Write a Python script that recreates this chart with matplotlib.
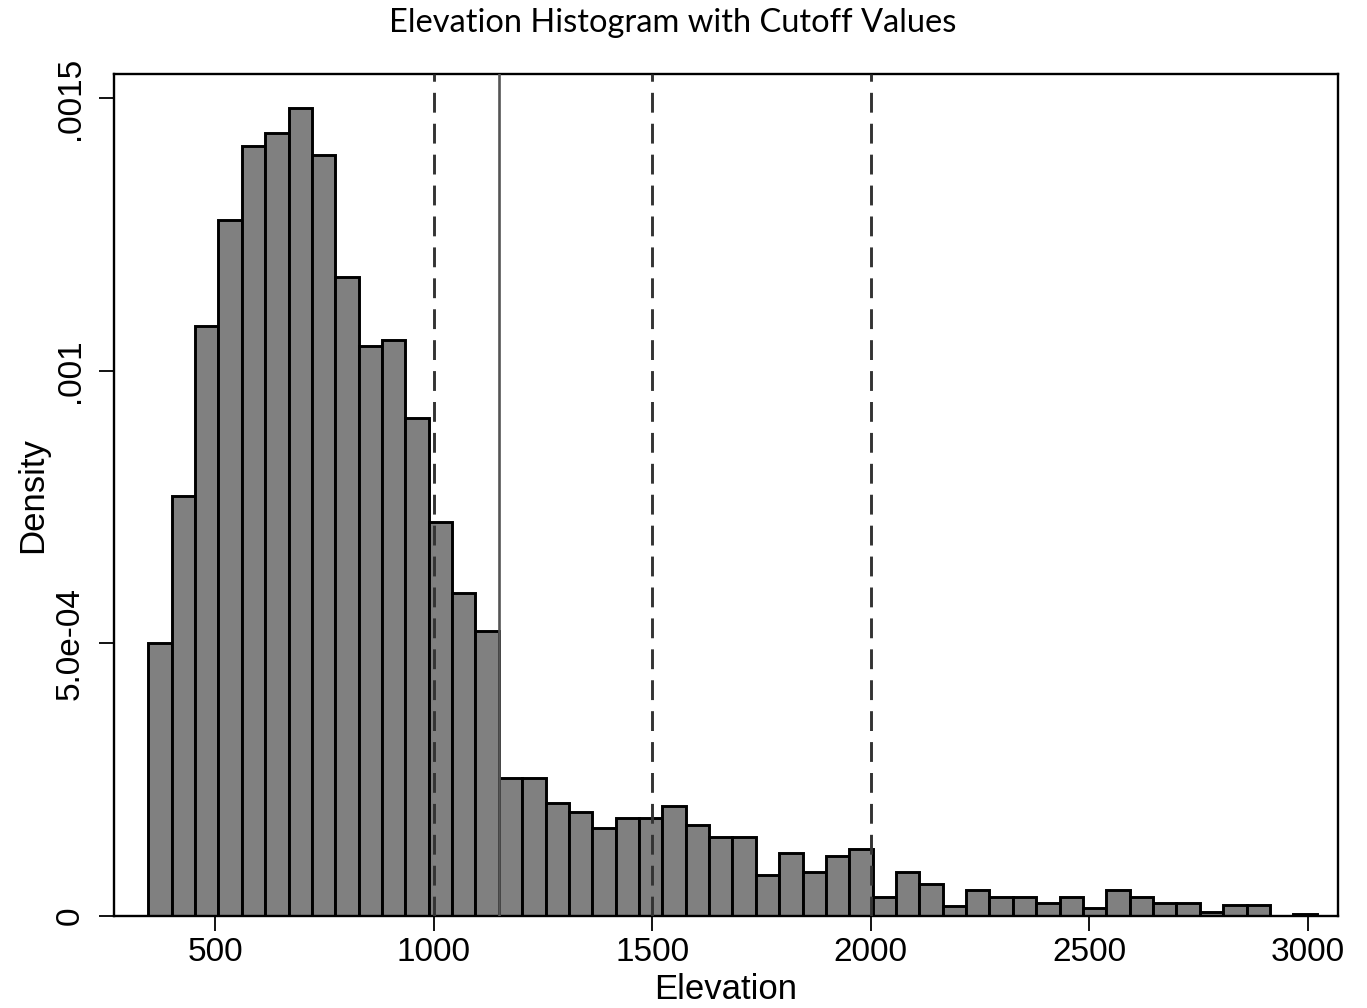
import numpy as np
import matplotlib.pyplot as plt

# Histogram of elevation (density scale), 50 equal-width bins
elev_lo = 347.5
elev_hi = 3020.0
n_bins = 50

density = [
    0.000500, 0.000771, 0.001081, 0.001276, 0.001412, 0.001436, 0.001482,
    0.001396, 0.001171, 0.001045, 0.001057, 0.000914, 0.000723, 0.000592,
    0.000522, 0.000253, 0.000253, 0.000207, 0.000190, 0.000161, 0.000179,
    0.000179, 0.000201, 0.000167, 0.000145, 0.000145, 0.000075, 0.000115,
    0.000081, 0.000110, 0.000122, 0.0000357, 0.0000815, 0.0000586,
    0.0000183, 0.0000476, 0.0000357, 0.0000357, 0.0000247, 0.0000357,
    0.0000137, 0.0000476, 0.0000357, 0.0000247, 0.0000247, 0.0000073,
    0.0000192, 0.0000192, 0.0, 0.0000037,
]

# cutoff values (dashed) and the reference line (solid)
cutoffs = [1000, 1500, 2000]
ref_line = 1150

xticks = [500, 1000, 1500, 2000, 2500, 3000]
yticks = [0, 0.0005, 0.001, 0.0015]
ytick_labels = ['0', '5.0e-04', '.001', '.0015']

edges = np.linspace(elev_lo, elev_hi, n_bins + 1)
width = edges[1] - edges[0]

plt.rcParams['font.family'] = ['Liberation Sans', 'DejaVu Sans']

fig = plt.figure(figsize=(13.67, 10.08), dpi=100)
ax = fig.add_axes([0.0834, 0.0913, 0.8954, 0.8353])

ax.bar(edges[:-1], density, width=width, align='edge',
       color='#808080', edgecolor='black', linewidth=2.1, zorder=2)

for c in cutoffs:
    ax.axvline(c, color='#333333', linewidth=2.1, dashes=(6.8, 3.8), zorder=3)
ax.axvline(ref_line, color='#555555', linewidth=1.9, zorder=3)

ax.set_xlim(269, 3069)
ax.set_ylim(0, 0.001544)

ax.set_xticks(xticks)
ax.set_yticks(yticks)
ax.set_yticklabels(ytick_labels, rotation=90, va='center')
ax.tick_params(axis='both', direction='out', length=10.5, width=1.3,
               labelsize=24)
ax.tick_params(axis='x', pad=5)
ax.tick_params(axis='y', pad=10)

for s in ax.spines.values():
    s.set_linewidth(1.7)

ax.set_xlabel('Elevation', fontsize=25, labelpad=3)
ax.set_ylabel('Density', fontsize=25, labelpad=4)

fig.text(0.4923, 0.977, 'Elevation Histogram with Cutoff Values',
         ha='center', va='center', fontsize=23.5, family=['Lato', 'DejaVu Sans'])

fig.savefig('out.png', dpi=100)
